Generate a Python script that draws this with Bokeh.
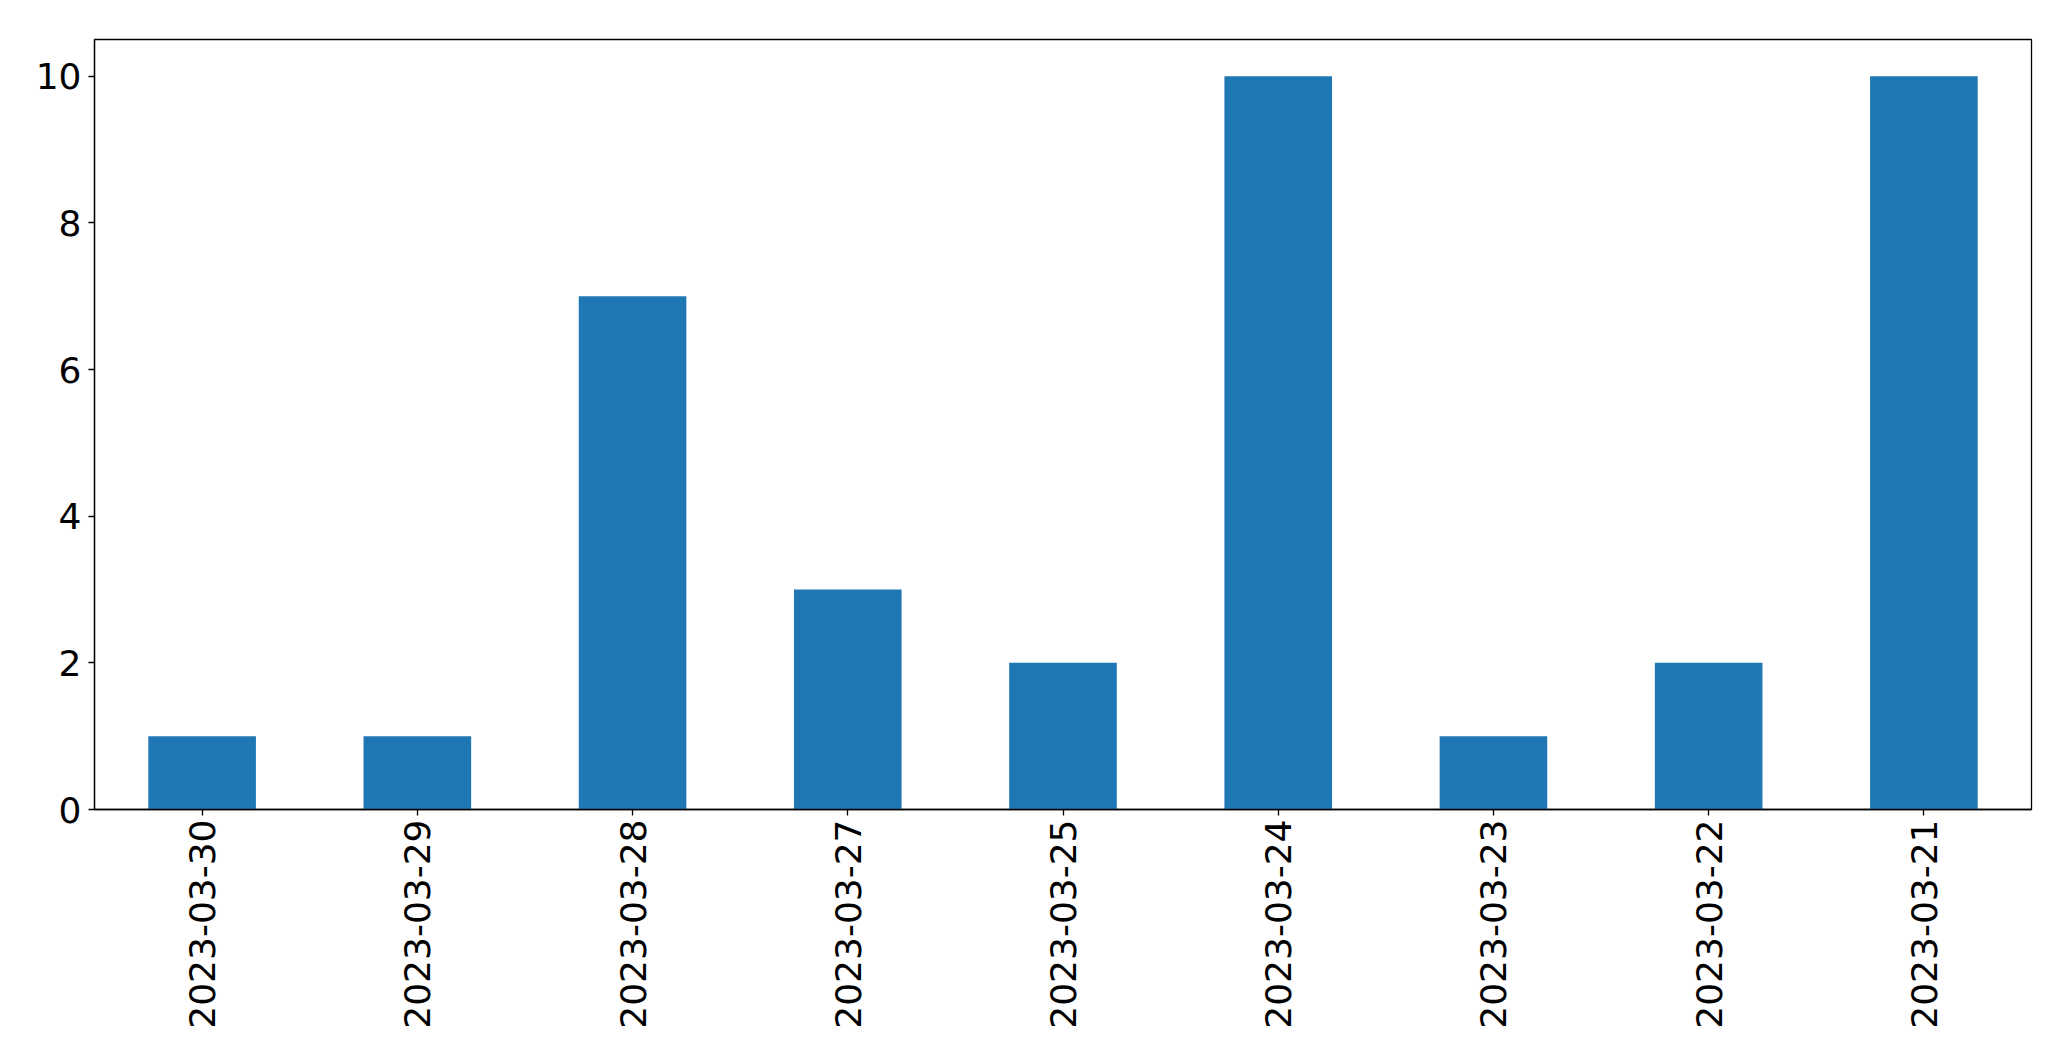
import math
from bokeh.plotting import figure
from bokeh.models import FactorRange, Range1d, FixedTicker, ColumnDataSource
from bokeh.embed import file_html
from bokeh.resources import INLINE

dates = ["2023-03-30", "2023-03-29", "2023-03-28", "2023-03-27", "2023-03-25",
         "2023-03-24", "2023-03-23", "2023-03-22", "2023-03-21"]
counts = [1, 1, 7, 3, 2, 10, 1, 2, 10]
y_ticks = [0, 2, 4, 6, 8, 10]

src = ColumnDataSource(dict(x=dates, top=counts))

p = figure(width=2055, height=1045, output_backend="svg", toolbar_location=None,
           x_range=FactorRange(factors=dates), y_range=Range1d(0, 10.5),
           min_border_left=94, min_border_right=24, min_border_top=39, min_border_bottom=236)
p.vbar(x="x", top="top", width=0.5, bottom=0, source=src, color="#1f77b4", line_color=None)

p.xgrid.visible = False
p.ygrid.visible = False
p.outline_line_color = "black"
p.outline_line_width = 1.3
p.background_fill_color = "white"
p.border_fill_color = "white"

for ax in (p.xaxis[0], p.yaxis[0]):
    ax.axis_line_color = "black"
    ax.axis_line_width = 1.3
    ax.major_tick_line_color = "black"
    ax.major_tick_line_width = 1.3
    ax.major_tick_out = 6
    ax.major_tick_in = 0
    ax.minor_tick_line_color = None
    ax.major_label_text_font = "DejaVu Sans"
    ax.major_label_text_font_size = "36px"
    ax.major_label_text_color = "black"

p.yaxis[0].ticker = FixedTicker(ticks=y_ticks)
p.yaxis[0].major_label_standoff = 7
p.xaxis[0].major_label_orientation = math.pi / 2
p.xaxis[0].major_label_standoff = 4

open("out.html", "w").write(file_html(p, INLINE))
